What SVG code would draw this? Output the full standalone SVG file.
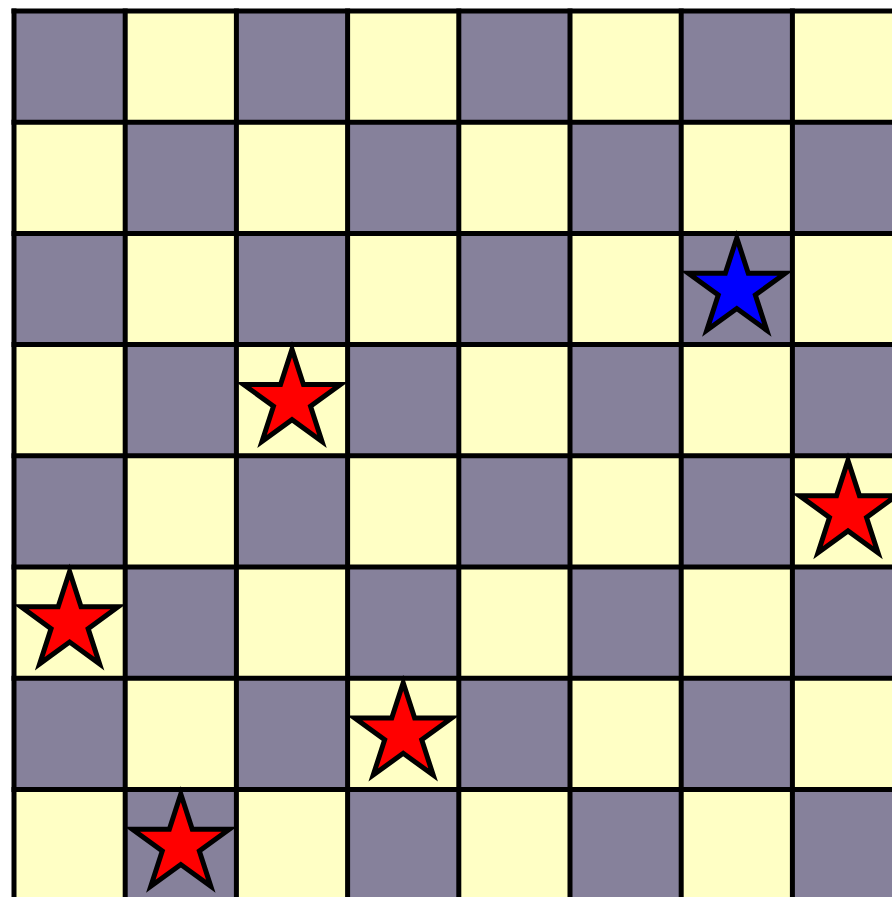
<svg xmlns="http://www.w3.org/2000/svg" xmlns:xlink="http://www.w3.org/1999/xlink" width="892" height="897" viewBox="0 0 892 897">
<style>
.d{fill:#86819b}
.l{fill:#ffffc5}
.grid line{stroke:#000;stroke-width:5}
.star{stroke:#000;stroke-width:5;stroke-linejoin:miter;stroke-miterlimit:10}
</style>
<defs>
<path id="star" d="M0,-51 L11.45,-15.76 L48.5,-15.76 L18.53,6.02 L29.98,41.26 L0,19.48 L-29.98,41.26 L-18.53,6.02 L-48.5,-15.76 L-11.45,-15.76 Z"/>
</defs>
<rect width="892" height="897" fill="#fff"/>
<g id="board">
<rect x="14" y="11" width="889.6" height="889.6" class="l"/>
<g class="d">
<rect x="14" y="11" width="111.2" height="111.2"/><rect x="236.4" y="11" width="111.2" height="111.2"/><rect x="458.8" y="11" width="111.2" height="111.2"/><rect x="681.2" y="11" width="111.2" height="111.2"/>
<rect x="125.2" y="122.2" width="111.2" height="111.2"/><rect x="347.6" y="122.2" width="111.2" height="111.2"/><rect x="570" y="122.2" width="111.2" height="111.2"/><rect x="792.4" y="122.2" width="111.2" height="111.2"/>
<rect x="14" y="233.4" width="111.2" height="111.2"/><rect x="236.4" y="233.4" width="111.2" height="111.2"/><rect x="458.8" y="233.4" width="111.2" height="111.2"/><rect x="681.2" y="233.4" width="111.2" height="111.2"/>
<rect x="125.2" y="344.6" width="111.2" height="111.2"/><rect x="347.6" y="344.6" width="111.2" height="111.2"/><rect x="570" y="344.6" width="111.2" height="111.2"/><rect x="792.4" y="344.6" width="111.2" height="111.2"/>
<rect x="14" y="455.8" width="111.2" height="111.2"/><rect x="236.4" y="455.8" width="111.2" height="111.2"/><rect x="458.8" y="455.8" width="111.2" height="111.2"/><rect x="681.2" y="455.8" width="111.2" height="111.2"/>
<rect x="125.2" y="567" width="111.2" height="111.2"/><rect x="347.6" y="567" width="111.2" height="111.2"/><rect x="570" y="567" width="111.2" height="111.2"/><rect x="792.4" y="567" width="111.2" height="111.2"/>
<rect x="14" y="678.2" width="111.2" height="111.2"/><rect x="236.4" y="678.2" width="111.2" height="111.2"/><rect x="458.8" y="678.2" width="111.2" height="111.2"/><rect x="681.2" y="678.2" width="111.2" height="111.2"/>
<rect x="125.2" y="789.4" width="111.2" height="111.2"/><rect x="347.6" y="789.4" width="111.2" height="111.2"/><rect x="570" y="789.4" width="111.2" height="111.2"/><rect x="792.4" y="789.4" width="111.2" height="111.2"/>
</g>
<g class="grid">
<line x1="14" y1="8.5" x2="14" y2="903"/><line x1="125.2" y1="8.5" x2="125.2" y2="903"/><line x1="236.4" y1="8.5" x2="236.4" y2="903"/><line x1="347.6" y1="8.5" x2="347.6" y2="903"/><line x1="458.8" y1="8.5" x2="458.8" y2="903"/><line x1="570" y1="8.5" x2="570" y2="903"/><line x1="681.2" y1="8.5" x2="681.2" y2="903"/><line x1="792.4" y1="8.5" x2="792.4" y2="903"/>
<line x1="11.5" y1="11" x2="905" y2="11"/><line x1="11.5" y1="122.2" x2="905" y2="122.2"/><line x1="11.5" y1="233.4" x2="905" y2="233.4"/><line x1="11.5" y1="344.6" x2="905" y2="344.6"/><line x1="11.5" y1="455.8" x2="905" y2="455.8"/><line x1="11.5" y1="567" x2="905" y2="567"/><line x1="11.5" y1="678.2" x2="905" y2="678.2"/><line x1="11.5" y1="789.4" x2="905" y2="789.4"/>
</g>
</g>
<g id="star-blue"><use xlink:href="#star" href="#star" class="star" fill="#0000ff" transform="translate(736.8,289)"/></g>
<g id="star-1"><use xlink:href="#star" href="#star" class="star" fill="#ff0000" transform="translate(292,400.2)"/></g>
<g id="star-2"><use xlink:href="#star" href="#star" class="star" fill="#ff0000" transform="translate(848,511.4)"/></g>
<g id="star-3"><use xlink:href="#star" href="#star" class="star" fill="#ff0000" transform="translate(69.6,622.6)"/></g>
<g id="star-4"><use xlink:href="#star" href="#star" class="star" fill="#ff0000" transform="translate(403.2,733.8)"/></g>
<g id="star-5"><use xlink:href="#star" href="#star" class="star" fill="#ff0000" transform="translate(180.8,845)"/></g>
</svg>
